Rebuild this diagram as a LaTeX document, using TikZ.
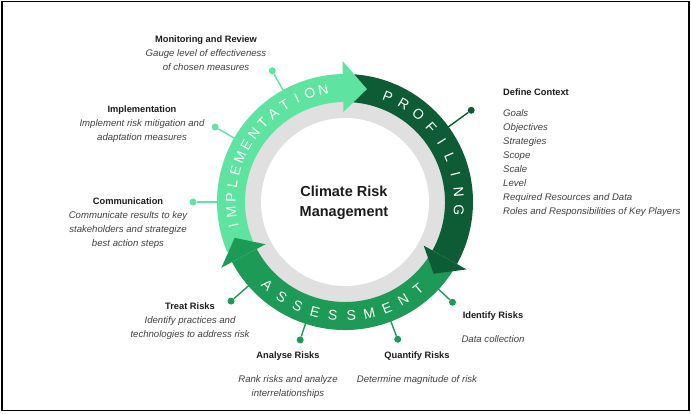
\documentclass[tikz,border=0pt]{standalone}
\usepackage{fontspec}
\setmainfont{Liberation Sans}
\usetikzlibrary{calc}
\definecolor{lightg}{HTML}{5FE3A1}
\definecolor{darkg}{HTML}{0D5C36}
\definecolor{midg}{HTML}{1E9A57}
\definecolor{ringgray}{HTML}{E0E0E0}
\definecolor{headc}{HTML}{1C1C1C}
\definecolor{descc}{HTML}{404040}
\newcommand\hd[1]{{\fontsize{9.3}{14}\selectfont\upshape\bfseries\color{headc}#1}}
\tikzset{
  headtext/.style={font=\fontsize{9.3}{14}\selectfont\bfseries, text=headc, inner sep=0pt},
  desctext/.style={font=\fontsize{9.6}{14}\selectfont\itshape, text=descc, inner sep=0pt},
  block/.style={align=center, inner sep=0pt, font=\fontsize{9.6}{14}\selectfont\itshape, text=descc},
  ringletter/.style={text=white, font=\fontsize{14}{14}\selectfont, inner sep=0pt},
  dotnode/.style={circle, fill=#1, minimum size=7pt, inner sep=0pt},
  leader/.style={draw=#1, line width=1.4pt},
}
\begin{document}
\begin{tikzpicture}[x=1pt,y=-1pt]
\useasboundingbox (0,0) rectangle (691,414);
\draw[line width=1.2pt] (2,1.5) rectangle (689,410.5);
\coordinate (C) at (345,202);
% gray ring and white centre
\fill[ringgray] (C) circle[radius=101pt];
\fill[white] (C) circle[radius=84pt];
% band bodies
\fill[lightg] ($(C)+(203:128pt)$) arc[start angle=203, end angle=91, radius=128pt]
  -- ($(C)+(91:100pt)$) arc[start angle=91, end angle=203, radius=100pt] -- cycle;
\fill[darkg] ($(C)+(89:128pt)$) arc[start angle=89, end angle=-29, radius=128pt]
  -- ($(C)+(-29:100pt)$) arc[start angle=-29, end angle=89, radius=100pt] -- cycle;
\fill[midg] ($(C)+(-31:128pt)$) arc[start angle=-31, end angle=-152, radius=128pt]
  -- ($(C)+(-152:100pt)$) arc[start angle=-152, end angle=-31, radius=100pt] -- cycle;
% arrow heads
\fill[lightg] ($(C)+(91:90pt)$) -- ($(C)+(91:141pt)$) -- ($(C)+(79:115pt)$) -- cycle;
\fill[darkg] ($(C)+(-29:90pt)$) -- ($(C)+(-29:139pt)$) -- ($(C)+(-39:114pt)$) -- cycle;
\fill[midg] ($(C)+(-152:90pt)$) -- ($(C)+(-152:140pt)$) -- ($(C)+(-162:116pt)$) -- cycle;
% ring letters
\foreach \ch [count=\i] in {I,M,P,L,E,M,E,N,T,A,T,I,O,N} {
  \pgfmathsetmacro\ang{192-(\i-1)*7.0}
  \node[ringletter, rotate=\ang-90] (li\i) at ($(C)+(\ang:114pt)$) {\ch};
}
\foreach \ch [count=\i] in {P,R,O,F,I,L,I,N,G} {
  \pgfmathsetmacro\ang{68-(\i-1)*9}
  \node[ringletter, rotate=\ang-90] (lp\i) at ($(C)+(\ang:114pt)$) {\ch};
}
\foreach \ch [count=\i] in {A,S,S,E,S,S,M,E,N,T} {
  \pgfmathsetmacro\ang{227+(\i-1)*9.22}
  \node[ringletter, rotate=\ang+90] (la\i) at ($(C)+(\ang:114pt)$) {\ch};
}
% leaders and dots
\foreach \nm/\ang/\rr/\col in {mon/119/150pt/lightg, imp/150/150pt/lightg, com/180/152pt/lightg,
    def/36/156pt/darkg, ide/317/147pt/midg, qua/291/147pt/midg, ana/252/145pt/midg, tre/221/151pt/midg} {
  \coordinate (r\nm) at ($(C)+(\ang:127pt)$);
  \node[dotnode=\col] (d\nm) at ($(C)+(\ang:\rr)$) {};
  \draw[leader=\col] (r\nm) -- (d\nm);
}
% centre title
\node[font=\fontsize{14.5}{20}\selectfont\bfseries, align=center, text=headc, inner sep=0pt] (title) at (344,203) {Climate Risk\\Management};
% text blocks
\node[block] (tmon) at (206,53) {\hd{Monitoring and Review}\\Gauge level of effectiveness\\of chosen measures};
\node[block] (timp) at (142,124) {\hd{Implementation}\\Implement risk mitigation and\\adaptation measures};
\node[block] (tcom) at (128,223.5) {\hd{Communication}\\Communicate results to key\\stakeholders and strategize\\best action steps};
\node[block] (ttre) at (190,321) {\hd{Treat Risks}\\Identify practices and\\technologies to address risk};
\node[headtext] (hana) at (288,356) {Analyse Risks};
\node[block] (tana) at (288,387) {Rank risks and analyze\\interrelationships};
\node[headtext] (hqua) at (417,356) {Quantify Risks};
\node[desctext] (tqua) at (417,380) {Determine magnitude of risk};
\node[headtext] (hide) at (493,316) {Identify Risks};
\node[desctext] (tide) at (493,339) {Data collection};
\node[headtext, anchor=west] (hdef) at (503,92) {Define Context};
\node[desctext, anchor=west, align=left] (tdef) at (503,163) {Goals\\Objectives\\Strategies\\Scope\\Scale\\Level\\Required Resources and Data\\Roles and Responsibilities of Key Players};
\end{tikzpicture}
\end{document}
